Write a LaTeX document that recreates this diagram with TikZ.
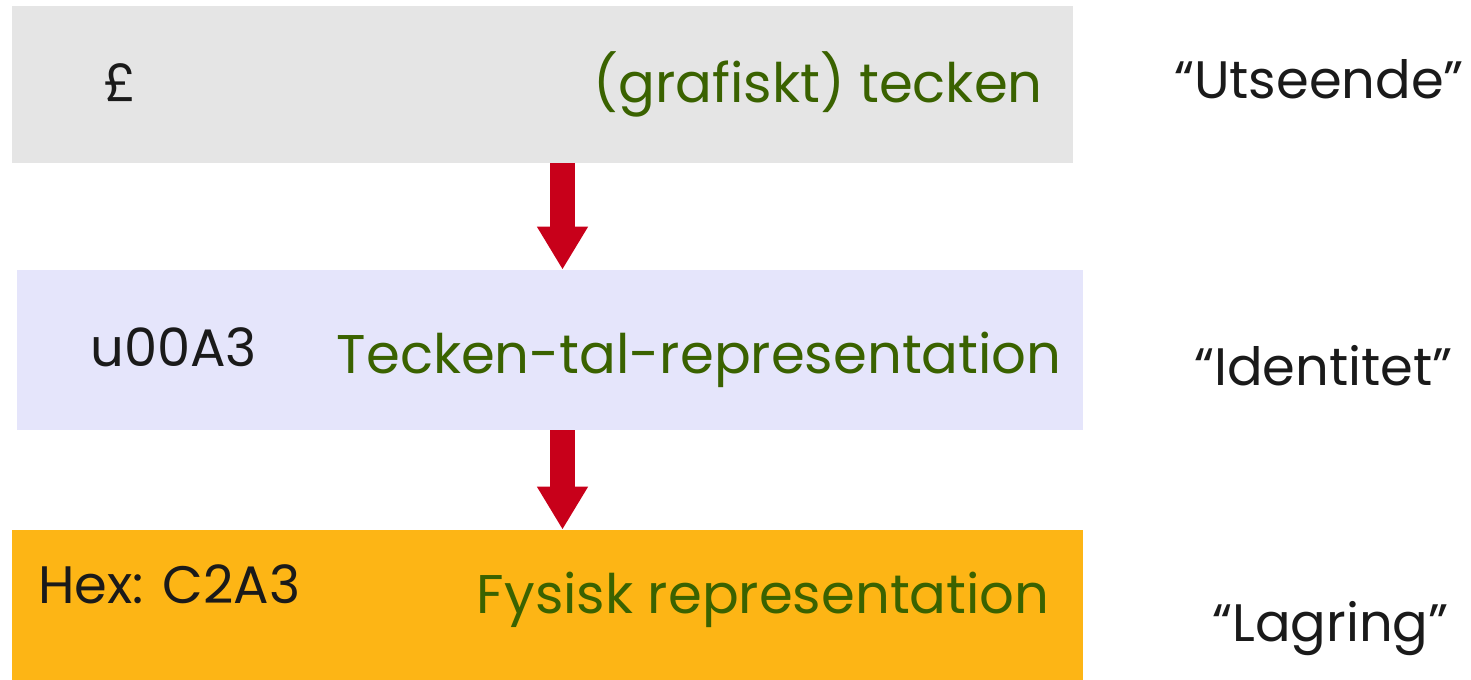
\documentclass[tikz,border=0pt]{standalone}
\usepackage{fontspec}
\setmainfont{Poppins}
\usetikzlibrary{arrows.meta}
\definecolor{boxgray}{HTML}{E5E5E5}
\definecolor{boxlav}{HTML}{E5E5FB}
\definecolor{boxorange}{HTML}{FDB515}
\definecolor{txtgreen}{HTML}{3A6200}
\definecolor{arrred}{HTML}{C8001A}
\definecolor{txtblack}{HTML}{1A1A1A}
\tikzset{
  levelbox/.style={rectangle, inner sep=0pt},
  smalltxt/.style={inner sep=0pt, font=\fontsize{30}{36}\selectfont, text=txtblack},
  leveltxt/.style={inner sep=0pt, font=\fontsize{31}{38}\selectfont, text=txtgreen},
  bigarrow/.style={draw=arrred, line width=0.5cm, -{Triangle[width=0.96cm, length=0.86cm]}, arrred}
}
\begin{document}
\begin{tikzpicture}
\useasboundingbox (0,0) rectangle (29.42,13.6);
\node[levelbox, fill=boxgray, minimum width=21.22cm, minimum height=3.14cm] (glyph) at (10.85,11.91){};
\node[levelbox, fill=boxlav, minimum width=21.32cm, minimum height=3.2cm] (ident) at (11.0,6.6){};
\node[levelbox, fill=boxorange, minimum width=21.42cm, minimum height=3.0cm] (store) at (10.95,1.5){};
\coordinate (ax) at (11.25,0);
\draw[bigarrow] (glyph.south -| ax) -- (ident.north -| ax);
\draw[bigarrow] (ident.south -| ax) -- (store.north -| ax);
\node[smalltxt, anchor=base] (pound) at (2.4,11.56){£};
\node[leveltxt, anchor=base east] (glyphname) at (20.86,11.54){(grafiskt) tecken};
\node[smalltxt, anchor=base west] (code) at (1.8,6.26){u00A3};
\node[leveltxt, anchor=base east] (identname) at (21.24,6.12){Tecken-tal-representation};
\node[smalltxt, anchor=base west] (hex) at (0.76,1.52){Hex: C2A3};
\node[leveltxt, anchor=base east] (storename) at (21.0,1.32){Fysisk representation};
\node[smalltxt, anchor=base] (look) at (26.38,11.62){“Utseende”};
\node[smalltxt, anchor=base] (identity) at (26.47,5.88){“Identitet”};
\node[smalltxt, anchor=base] (storage) at (26.61,0.76){“Lagring”};
\end{tikzpicture}
\end{document}
